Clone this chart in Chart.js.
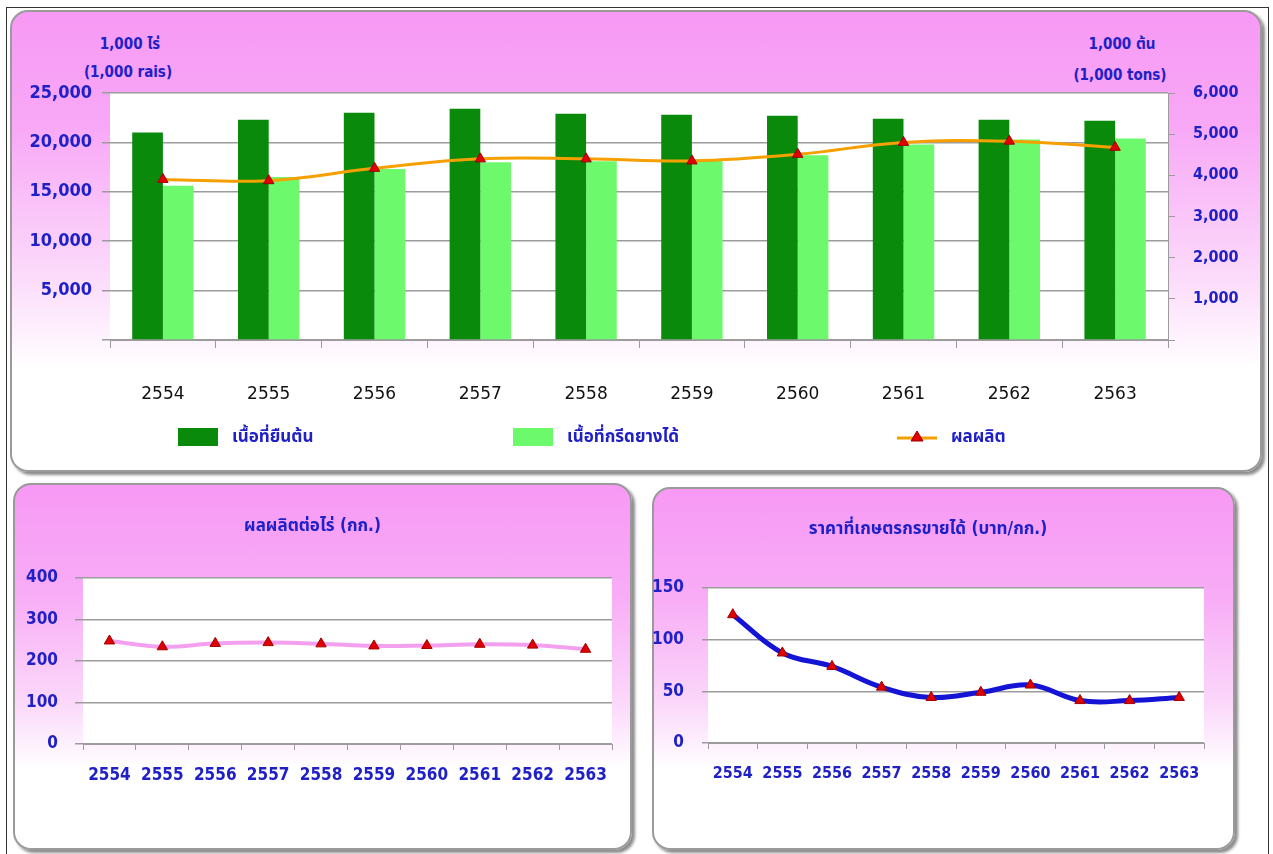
<!DOCTYPE html>
<html>
<head>
<meta charset="utf-8">
<script src="https://cdn.jsdelivr.net/npm/chart.js@4.4.1/dist/chart.umd.min.js"></script>
<style>
  body { margin: 0; background: #fff; width: 1273px; height: 854px; overflow: hidden; position: relative;
         font-family: 'DejaVu Sans Condensed', 'Liberation Sans Narrow', 'Noto Sans Thai', sans-serif; }
  .frame { position: absolute; left: 6px; top: 7px; width: 1261px; height: 860px; border: 1px solid #333; }
  .panel { position: absolute; border: 2px solid #9a9a9a; border-radius: 18px; box-sizing: border-box;
           box-shadow: 3px 3px 3px rgba(0,0,0,0.45); }
  #p1 { left: 10px; top: 10px; width: 1252px; height: 462px;
        background: linear-gradient(#f799f5 0%, #f8a8f6 25%, #fbd6fa 55%, #fff 78%); }
  #p2 { left: 13px; top: 483px; width: 619px; height: 367px;
        background: linear-gradient(#f799f5 0%, #f8acf6 30%, #fbd8fa 60%, #fff 78%); }
  #p3 { left: 652px; top: 487px; width: 583px; height: 363px;
        background: linear-gradient(#f799f5 0%, #f8acf6 30%, #fbd8fa 60%, #fff 78%); }
  canvas { position: absolute; }
  .unit { position: absolute; color: #2020c8; font-weight: bold; font-size: 15px; text-align: center; width: 120px; }
  .leg { position: absolute; top: 427px; height: 20px; display: flex; align-items: center;
         color: #2020c8; font-weight: bold; font-size: 17px; }
  .sw { width: 40px; height: 18px; margin-right: 14px; }
</style>
</head>
<body>
<div class="frame"></div>
<div class="panel" id="p1"></div>
<div class="panel" id="p2"></div>
<div class="panel" id="p3"></div>

<div class="unit" style="left:70px;top:33px">1,000 ไร่</div>
<div class="unit" style="left:68px;top:63px">(1,000 rais)</div>
<div class="unit" style="left:1062px;top:33px">1,000 ต้น</div>
<div class="unit" style="left:1060px;top:66px">(1,000 tons)</div>

<canvas id="top" width="1252" height="462" style="left:10px;top:10px;width:1252px;height:462px"></canvas>
<canvas id="yield" width="619" height="367" style="left:13px;top:483px;width:619px;height:367px"></canvas>
<canvas id="price" width="583" height="363" style="left:652px;top:487px;width:583px;height:363px"></canvas>

<div id="legend"></div>

<script>
const years = ['2554', '2555', '2556', '2557', '2558', '2559', '2560', '2561', '2562', '2563'];
// 1,000 rais
const plantedArea = [21000, 22300, 23000, 23400, 22900, 22800, 22700, 22400, 22300, 22200];
const tappedArea = [15600, 16500, 17300, 18000, 18100, 18300, 18700, 19800, 20300, 20400];
// 1,000 tons
const production = [3900, 3870, 4170, 4400, 4400, 4350, 4510, 4800, 4830, 4680];
// kg per rai
const yieldPerRai = [248, 234, 242, 244, 241, 236, 237, 240, 238, 228];
// baht per kg
const farmPrice = [124, 87, 74, 54, 44, 49, 56, 41, 41, 44];

const seriesNames = ['เนื้อที่ยืนต้น', 'เนื้อที่กรีดยางได้', 'ผลผลิต'];
const titleYield = 'ผลผลิตต่อไร่ (กก.)';
const titlePrice = 'ราคาที่เกษตรกรขายได้ (บาท/กก.)';

const BLUE = '#2020c8';
const GRID = '#9c9c9c';
const NARROW = "'DejaVu Sans Condensed', 'Liberation Sans Narrow', 'Noto Sans Thai', sans-serif";
const DARK_GREEN = '#0a8a0a';
const LIGHT_GREEN = '#6cfa6c';
const ORANGE = '#f5a000';

// white plot area
const plotBg = {
  id: 'plotBg',
  beforeDraw(chart) {
    const a = chart.chartArea, ctx = chart.ctx;
    ctx.save();
    ctx.fillStyle = '#fff';
    ctx.fillRect(a.left, a.top, a.right - a.left, a.bottom - a.top);
    ctx.restore();
  }
};

const tri = { pointStyle: 'triangle', pointRadius: 6, pointHoverRadius: 6,
  pointBackgroundColor: '#e00000', pointBorderColor: '#a00000', pointBorderWidth: 1 };

// top combo chart
new Chart(document.getElementById('top'), {
  type: 'bar',
  data: {
    labels: years,
    datasets: [
      { label: seriesNames[0], data: plantedArea, backgroundColor: DARK_GREEN, yAxisID: 'y', order: 1,
        categoryPercentage: 0.58, barPercentage: 1 },
      { label: seriesNames[1], data: tappedArea, backgroundColor: LIGHT_GREEN, yAxisID: 'y', order: 1,
        categoryPercentage: 0.58, barPercentage: 1 },
      Object.assign({ type: 'line', label: seriesNames[2], data: production, yAxisID: 'y1', order: 0,
        borderColor: ORANGE, borderWidth: 3, tension: 0.4 }, tri)
    ]
  },
  options: {
    responsive: false, animation: false,
    layout: { padding: { top: 83, left: 0, right: 0, bottom: 0 } },
    plugins: { legend: { display: false }, tooltip: { enabled: false } },
    scales: {
      x: {
        offset: true,
        grid: { offset: true, drawOnChartArea: false, tickLength: 8, color: GRID },
        border: { color: GRID },
        ticks: { color: '#111', padding: 36, maxRotation: 0, font: { family: "'DejaVu Sans'", size: 17 } },
        afterFit(s) { s.height = 132; }
      },
      y: {
        position: 'left', min: 0, max: 25000,
        ticks: { stepSize: 5000, color: BLUE, padding: 10, font: { family: NARROW, size: 18, weight: 'bold' },
          callback: v => v === 0 ? '' : v.toLocaleString('en-US') },
        grid: { color: GRID, lineWidth: 1.5, tickLength: 8 },
        border: { display: false },
        afterFit(s) { s.width = 100; }
      },
      y1: {
        position: 'right', min: 0, max: 6000,
        ticks: { stepSize: 1000, color: BLUE, padding: 18, font: { family: NARROW, size: 16, weight: 'bold' },
          callback: v => v === 0 ? '' : v.toLocaleString('en-US') },
        grid: { drawOnChartArea: false, color: GRID, tickLength: 7 },
        border: { color: GRID },
        afterFit(s) { s.width = 94; }
      }
    }
  },
  plugins: [plotBg]
});

// legend for top chart, from dataset names and colours
const legendItems = [
  { text: seriesNames[0], left: 178, swatch: 'background:' + DARK_GREEN },
  { text: seriesNames[1], left: 513, swatch: 'background:' + LIGHT_GREEN },
  { text: seriesNames[2], left: 897, line: true }
];
const legendEl = document.getElementById('legend');
legendItems.forEach(it => {
  const d = document.createElement('div');
  d.className = 'leg';
  d.style.left = it.left + 'px';
  if (it.line) {
    d.innerHTML = '<svg width="40" height="18" style="margin-right:14px"><line x1="0" y1="10" x2="40" y2="10" stroke="' + ORANGE +
      '" stroke-width="3"/><polygon points="20,3 26,13 14,13" fill="#e00000" stroke="#a00000" stroke-width="1"/></svg>';
  } else {
    d.innerHTML = '<div class="sw" style="' + it.swatch + '"></div>';
  }
  const t = document.createElement('span');
  t.textContent = it.text;
  d.appendChild(t);
  legendEl.appendChild(d);
});

function smallLine(id, title, data, color, width, max, step, cfg) {
  return new Chart(document.getElementById(id), {
    type: 'line',
    data: {
      labels: years,
      datasets: [Object.assign({ data, borderColor: color, borderWidth: width, tension: 0.4 }, tri)]
    },
    options: {
      responsive: false, animation: false,
      layout: { padding: { right: cfg.right, left: 0, top: 0, bottom: 0 } },
      plugins: {
        legend: { display: false }, tooltip: { enabled: false },
        title: { display: true, text: title, color: BLUE, font: { family: NARROW, size: 17, weight: 'bold' },
          padding: { top: cfg.titleTop, bottom: cfg.titleBottom } }
      },
      scales: {
        x: {
          offset: true,
          grid: { offset: true, drawOnChartArea: false, tickLength: 6, color: GRID },
          border: { color: GRID },
          ticks: { color: BLUE, padding: 15, maxRotation: 0, minRotation: 0, autoSkip: false,
            font: { family: NARROW, size: cfg.xFont, weight: 'bold' } },
          afterFit(s) { s.height = cfg.xHeight; }
        },
        y: {
          min: 0, max,
          ticks: { stepSize: step, color: BLUE, padding: cfg.yPad, font: { family: NARROW, size: 17, weight: 'bold' } },
          grid: { color: GRID, lineWidth: 1.5, tickLength: cfg.yTick },
          border: { display: false },
          afterFit(s) { s.width = cfg.yWidth; }
        }
      }
    },
    plugins: [plotBg]
  });
}

smallLine('yield', titleYield, yieldPerRai, '#f4a0f0', 4, 400, 100,
  { right: 20, titleTop: 33, titleBottom: 41.4, xFont: 17, xHeight: 106, yPad: 17, yTick: 8, yWidth: 70 });
smallLine('price', titlePrice, farmPrice, '#1414d4', 5, 150, 50,
  { right: 31, titleTop: 32, titleBottom: 48.4, xFont: 16, xHeight: 107, yPad: 18, yTick: 6, yWidth: 56 });
</script>
</body>
</html>
